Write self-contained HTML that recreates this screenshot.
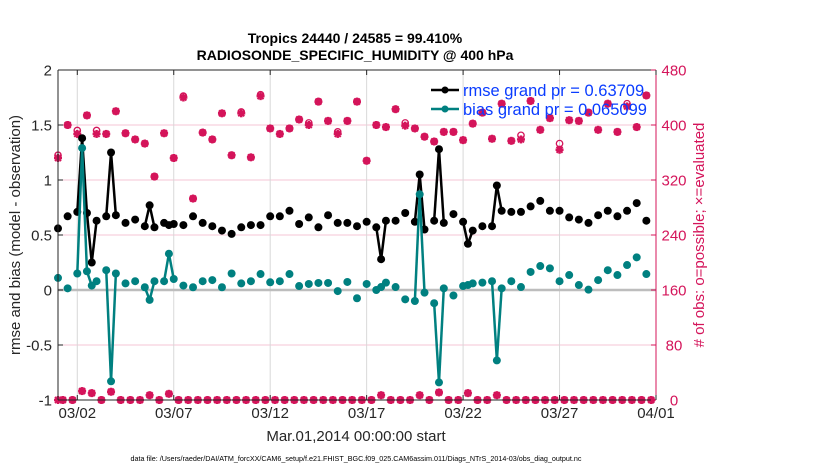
<!DOCTYPE html>
<html><head><meta charset="utf-8">
<style>
html,body{margin:0;padding:0;background:#fff;}
svg{display:block;font-family:"Liberation Sans",Arial,sans-serif;}
</style></head>
<body>
<svg id="chart" width="830" height="470" viewBox="0 0 830 470" xmlns="http://www.w3.org/2000/svg">
  <rect x="0" y="0" width="830" height="470" fill="#fff"/>
  <text x="355" y="43" font-size="14" font-weight="bold" text-anchor="middle" fill="#000">Tropics 24440 / 24585 = 99.410%</text>
  <text x="355" y="60" font-size="14" font-weight="bold" text-anchor="middle" fill="#000">RADIOSONDE_SPECIFIC_HUMIDITY @ 400 hPa</text>
  <g id="grid"></g>
  <g id="marks"></g>
  <g id="axes"></g>
  <text transform="translate(20,235) rotate(-90)" font-size="15" text-anchor="middle" fill="#262626">rmse and bias (model - observation)</text>
  <text transform="translate(704,235) rotate(-90)" font-size="15" text-anchor="middle" fill="#d4145a"># of obs: o=possible; ×=evaluated</text>
  <text x="356" y="441" font-size="15" text-anchor="middle" fill="#262626">Mar.01,2014 00:00:00 start</text>
  <text x="356" y="461" font-size="7.2" text-anchor="middle" fill="#000">data file: /Users/raeder/DAI/ATM_forcXX/CAM6_setup/f.e21.FHIST_BGC.f09_025.CAM6assim.011/Diags_NTrS_2014-03/obs_diag_output.nc</text>
  <g id="legend"></g>
</svg>
<script>
// ---- data ----
const times = [0,0.5,1,1.25,1.5,1.75,2,2.5,2.75,3,3.5,4,4.5,4.75,5,5.5,5.75,6,6.5,7,7.5,8,8.5,9,9.5,10,10.5,11,11.5,12,12.5,13,13.5,14,14.5,15,15.5,16,16.5,16.75,17,17.5,18,18.5,18.75,19,19.5,19.75,20,20.5,21,21.25,21.5,22,22.5,22.75,23,23.5,24,24.5,25,25.5,26,26.5,27,27.5,28,28.5,29,29.5,30,30.5];
const rmse = [0.56,0.67,0.71,1.38,0.70,0.25,0.63,0.67,1.25,0.68,0.61,0.64,0.58,0.77,0.57,0.61,0.59,0.60,0.59,0.67,0.61,0.58,0.54,0.51,0.57,0.59,0.59,0.67,0.67,0.72,0.60,0.66,0.57,0.68,0.61,0.61,0.58,0.62,0.57,0.28,0.63,0.63,0.70,0.62,1.05,0.55,0.63,1.28,0.61,0.69,0.62,0.42,0.54,0.58,0.58,0.95,0.72,0.71,0.71,0.76,0.81,0.72,0.72,0.66,0.64,0.61,0.68,0.72,0.67,0.72,0.79,0.63];
const bias = [0.11,0.015,0.15,1.29,0.17,0.04,0.08,0.18,-0.83,0.15,0.06,0.08,0.025,-0.09,0.08,0.08,0.33,0.10,0.04,0.025,0.08,0.09,0.025,0.15,0.06,0.08,0.145,0.07,0.08,0.145,0.036,0.055,0.064,0.064,-0.01,0.073,-0.075,0.055,0.0,0.027,0.067,0.027,-0.085,-0.10,0.87,-0.024,-0.12,-0.84,0.015,-0.05,0.036,0.045,0.06,0.067,0.08,-0.64,0.015,0.08,0.027,0.164,0.218,0.197,0.08,0.136,0.045,0.003,0.09,0.18,0.136,0.227,0.297,0.145];
const synDays = [0,0.5,1,1.5,2,2.5,3,3.5,4,4.5,5,5.5,6,6.5,7,7.5,8,8.5,9,9.5,10,10.5,11,11.5,12,12.5,13,13.5,14,14.5,15,15.5,16,16.5,17,17.5,18,18.5,19,19.5,20,20.5,21,21.5,22,22.5,23,23.5,24,24.5,25,25.5,26,26.5,27,27.5,28,28.5,29,29.5,30,30.5];
const synEvaluated = [352,400,387,414,387,387,420,388,379,373,325,388,352,440,293,389,379,417,356,417,353,442,395,387,395,408,400,434,406,387,406,434,348,400,397,423,399,395,383,376,390,390,378,402,418,380,431,377,379,435,393,410,364,407,406,418,393,431,390,427,397,443];
const synPossible = [356,400,392,414,392,387,420,388,379,373,325,388,352,442,293,389,379,417,356,419,353,444,395,387,395,408,403,434,406,390,406,434,348,400,397,423,403,395,383,376,390,390,378,402,418,380,431,377,385,435,393,410,373,407,406,418,393,431,390,431,397,443];
const offDays = [0.25,0.75,1.25,1.75,2.25,2.75,3.25,3.75,4.25,4.75,5.25,5.75,6.25,6.75,7.25,7.75,8.25,8.75,9.25,9.75,10.25,10.75,11.25,11.75,12.25,12.75,13.25,13.75,14.25,14.75,15.25,15.75,16.25,16.75,17.25,17.75,18.25,18.75,19.25,19.75,20.25,20.75,21.25,21.75,22.25,22.75,23.25,23.75,24.25,24.75,25.25,25.75,26.25,26.75,27.25,27.75,28.25,28.75,29.25,29.75,30.25,30.75];
const offCounts = [0,0,13,10,0,12,0,0,0,7,0,9,0,0,0,0,0,0,0,0,0,0,0,0,0,0,0,0,0,0,0,0,0,7,0,0,0,7,0,11,0,0,10,0,0,7,0,0,0,0,0,0,0,0,0,0,0,0,0,0,0,0];
const xTickDays = [1,6,11,16,21,26,31];
const xTickLabels = ["03/02","03/07","03/12","03/17","03/22","03/27","04/01"];
const yTicks = [2,1.5,1,0.5,0,-0.5,-1];
const yTickLabels = ["2","1.5","1","0.5","0","-0.5","-1"];
const rTicks = [0,80,160,240,320,400,480];
const legendLabels = ["rmse grand pr = 0.63709","bias grand pr = 0.065099"];

// ---- scales ----
const X0=58, X1=656, Y0=70, Y1=400;
function xs(d){return X0 + d*(X1-X0)/31;}
function ys(v){return Y1 - (v+1)*(Y1-Y0)/3;}
function yr(c){return Y1 - c*(Y1-Y0)/480;}
const NS="http://www.w3.org/2000/svg";
function mk(tag,attrs,parent){const e=document.createElementNS(NS,tag);for(const k in attrs)e.setAttribute(k,attrs[k]);parent.appendChild(e);return e;}
const grid=document.getElementById('grid'), marks=document.getElementById('marks'), axes=document.getElementById('axes'), legend=document.getElementById('legend');
const CR="#d4145a", TEAL="#008080";

// grid
yTicks.forEach(v=>{ if(v!==0 && v!==2 && v!==-1){
  const g=mk('line',{x1:X0,x2:X1,y1:ys(v),y2:ys(v),stroke:'#f4c6d6','stroke-width':1},grid);
  
  
}});
xTickDays.forEach(d=>{ if(d<31){
  const g=mk('line',{x1:xs(d),x2:xs(d),y1:Y0,y2:Y1,stroke:'#d8d8d8','stroke-width':1},grid);
  
  
}});
const zl=mk('line',{x1:X0,x2:X1,y1:ys(0),y2:ys(0),stroke:'#bdbdbd','stroke-width':2.5},grid);



// count markers
function star(cx,cy,name){
  const g=mk('g',{},marks);
  
  
  const r=4,r2=3;
  mk('line',{x1:cx-r,x2:cx+r,y1:cy,y2:cy,stroke:CR,'stroke-width':2.5},g);
  mk('line',{x1:cx,x2:cx,y1:cy-r,y2:cy+r,stroke:CR,'stroke-width':2.5},g);
  mk('line',{x1:cx-r2,x2:cx+r2,y1:cy-r2,y2:cy+r2,stroke:CR,'stroke-width':2},g);
  mk('line',{x1:cx-r2,x2:cx+r2,y1:cy+r2,y2:cy-r2,stroke:CR,'stroke-width':2},g);
}
function ring(cx,cy,name){
  const c=mk('circle',{cx:cx,cy:cy,r:3.2,fill:'none',stroke:CR,'stroke-width':1.3},marks);
  
  
}
synDays.forEach((d,i)=>{ ring(xs(d),yr(synPossible[i]),'possible-count'); star(xs(d),yr(synEvaluated[i]),'evaluated-count'); });
offDays.forEach((d,i)=>{ if(d<=31){ ring(xs(d),yr(offCounts[i]),'possible-count'); star(xs(d),yr(offCounts[i]),'evaluated-count'); }});
star(xs(0),yr(0),'evaluated-count');

// series lines + markers
function series(vals,color,name){
  for(let i=0;i<times.length-1;i++){
    if(times[i+1]-times[i]<=0.26){
      const l=mk('line',{x1:xs(times[i]),y1:ys(vals[i]),x2:xs(times[i+1]),y2:ys(vals[i+1]),stroke:color,'stroke-width':2.5},marks);
      
      
    }
  }
  times.forEach((t,i)=>{
    const c=mk('circle',{cx:xs(t),cy:ys(vals[i]),r:4,fill:color},marks);
    
    
  });
}
series(rmse,'#000','rmse');
series(bias,TEAL,'bias');

// axes
const ax=[['line',{x1:X0,x2:X0,y1:Y0,y2:Y1,stroke:'#262626','stroke-width':1},'left-axis'],
 ['line',{x1:X0,x2:X1,y1:Y1,y2:Y1,stroke:'#262626','stroke-width':1},'bottom-axis'],
 ['line',{x1:X0,x2:X1,y1:Y0,y2:Y0,stroke:'#262626','stroke-width':1},'top-axis'],
 ['line',{x1:X1,x2:X1,y1:Y0,y2:Y1,stroke:CR,'stroke-width':1},'right-axis']];
ax.forEach(a=>{const e=mk(a[0],a[1],axes);
  
  
});
yTicks.forEach((v,i)=>{
  mk('line',{x1:X0,x2:X0+5,y1:ys(v),y2:ys(v),stroke:'#262626'},axes);
  const t=mk('text',{x:X0-6,y:ys(v)+5.5,'font-size':15,'text-anchor':'end',fill:'#262626'},axes);
  t.textContent=yTickLabels[i];
  
  
});
rTicks.forEach(c=>{
  mk('line',{x1:X1-5,x2:X1,y1:yr(c),y2:yr(c),stroke:CR},axes);
  const t=mk('text',{x:674,y:yr(c)+5.5,'font-size':15,'text-anchor':'middle',fill:CR},axes);
  t.textContent=String(c);
  
  
});
xTickDays.forEach((d,i)=>{
  mk('line',{x1:xs(d),x2:xs(d),y1:Y1,y2:Y1-5,stroke:'#262626'},axes);
  mk('line',{x1:xs(d),x2:xs(d),y1:Y0,y2:Y0+5,stroke:'#262626'},axes);
  const t=mk('text',{x:xs(d),y:418,'font-size':15,'text-anchor':'middle',fill:'#262626'},axes);
  t.textContent=xTickLabels[i];
  
  
});

// legend
[['#000',90],[TEAL,109]].forEach((s,i)=>{
  const g=mk('g',{},legend);
  
  
  mk('line',{x1:431,x2:459,y1:s[1],y2:s[1],stroke:s[0],'stroke-width':2.5},g);
  mk('circle',{cx:445,cy:s[1],r:3.5,fill:s[0]},g);
  const t=mk('text',{x:463,y:s[1]+6,'font-size':16.5,fill:'#0a3cff'},g);
  t.textContent=legendLabels[i];
});
</script>
</body></html>
